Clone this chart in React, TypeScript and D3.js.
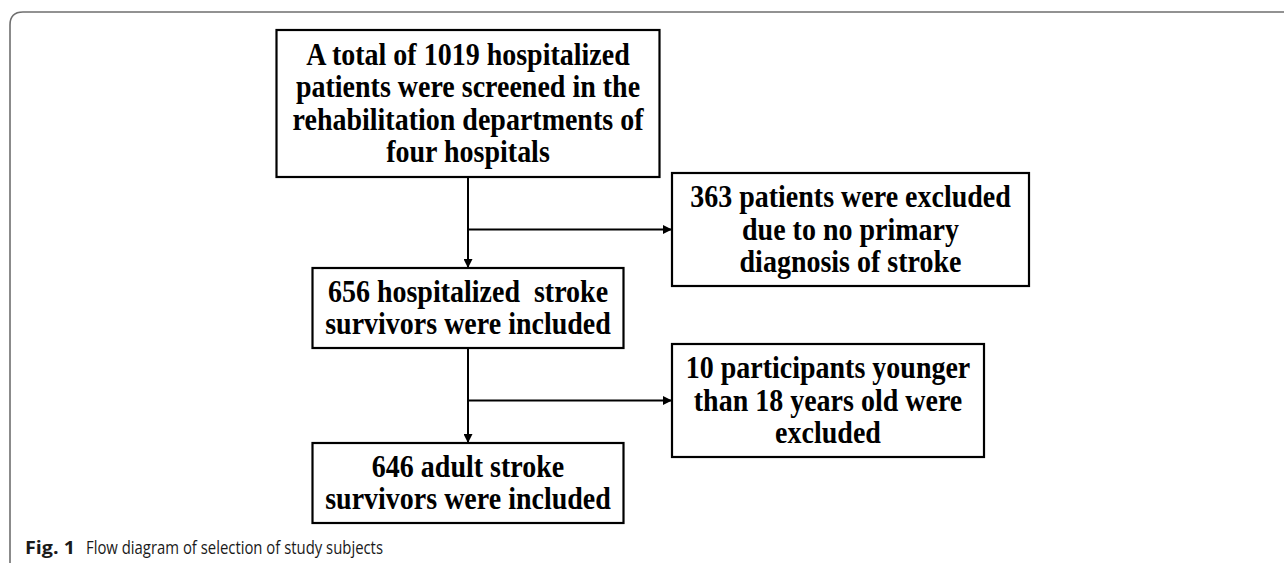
import React, { useEffect, useRef } from 'react';
import * as d3 from 'd3';

// box texts, top to bottom in the main column
const mainSteps: string[][] = [
  ['A total of 1019 hospitalized', 'patients were screened in the', 'rehabilitation departments of', 'four hospitals'],
  ['656 hospitalized  stroke', 'survivors were included'],
  ['646 adult stroke', 'survivors were included'],
];

// exclusion boxes, one between each pair of main steps
const exclusions: string[][] = [
  ['363 patients were excluded', 'due to no primary', 'diagnosis of stroke'],
  ['10 participants younger', 'than 18 years old were', 'excluded'],
];

const captionLabel = 'Fig. 1';
const captionText = 'Flow diagram of selection of study subjects';

const App: React.FC = () => {
  const svgRef = useRef<SVGSVGElement>(null);

  useEffect(() => {
    if (!svgRef.current) return;
    const svg = d3.select(svgRef.current);
    svg.selectAll('*').remove();

    const width = 1284;
    const height = 563;
    svg.attr('width', width).attr('height', height);

    const fontSize = 28;
    const stretch = 1.12; // the original lettering is a little taller than Times
    const lineH = 32.5;

    // layout of the two columns
    const mainX = 468;
    const sideLeft = 672;
    const mainRows = [
      { cy: 103.5, w: 383, h: 147 },
      { cy: 308, w: 311, h: 80 },
      { cy: 483, w: 311, h: 80 },
    ];
    const sideRows = [
      { cy: 229.5, w: 357, h: 113 },
      { cy: 400.5, w: 312, h: 113 },
    ];

    // frame around the figure
    const r = 13;
    svg
      .append('path')
      .attr('d', `M10,${height + 5} L10,${12 + r} Q10,12 ${10 + r},12 L${width + 5},12`)
      .attr('fill', 'none')
      .attr('stroke', '#6f6f6f')
      .attr('stroke-width', 1.6);

    svg
      .append('defs')
      .append('marker')
      .attr('id', 'arrow')
      .attr('viewBox', '0 0 10 10')
      .attr('refX', 10)
      .attr('refY', 5)
      .attr('markerUnits', 'userSpaceOnUse')
      .attr('markerWidth', 9)
      .attr('markerHeight', 9)
      .attr('orient', 'auto')
      .append('path')
      .attr('d', 'M0,0 L10,5 L0,10 Z')
      .attr('fill', '#000');

    const drawBox = (lines: string[], cx: number, cy: number, w: number, h: number) => {
      const g = svg.append('g');
      g.append('rect')
        .attr('x', cx - w / 2)
        .attr('y', cy - h / 2)
        .attr('width', w)
        .attr('height', h)
        .attr('fill', '#fff')
        .attr('stroke', '#000')
        .attr('stroke-width', 2.2);
      const first = cy - ((lines.length - 1) * lineH) / 2 + 10;
      g.selectAll('text')
        .data(lines)
        .enter()
        .append('text')
        .attr('transform', (_, i) => `translate(${cx},${first + i * lineH}) scale(1,${stretch})`)
        .attr('text-anchor', 'middle')
        .style('font-family', "'Liberation Serif', 'Times New Roman', serif")
        .style('font-weight', 'bold')
        .style('font-size', `${fontSize}px`)
        .style('white-space', 'pre')
        .attr('fill', '#000')
        .text(d => d);
    };

    // connectors
    mainRows.slice(0, -1).forEach((row, i) => {
      const next = mainRows[i + 1];
      const side = sideRows[i];
      svg
        .append('line')
        .attr('x1', mainX)
        .attr('y1', row.cy + row.h / 2)
        .attr('x2', mainX)
        .attr('y2', next.cy - next.h / 2)
        .attr('stroke', '#000')
        .attr('stroke-width', 2)
        .attr('marker-end', 'url(#arrow)');
      svg
        .append('line')
        .attr('x1', mainX)
        .attr('y1', side.cy)
        .attr('x2', sideLeft)
        .attr('y2', side.cy)
        .attr('stroke', '#000')
        .attr('stroke-width', 2)
        .attr('marker-end', 'url(#arrow)');
    });

    mainSteps.forEach((lines, i) => {
      const row = mainRows[i];
      drawBox(lines, mainX, row.cy, row.w, row.h);
    });
    exclusions.forEach((lines, i) => {
      const row = sideRows[i];
      drawBox(lines, sideLeft + row.w / 2, row.cy, row.w, row.h);
    });

    // caption
    const capY = 554;
    svg
      .append('text')
      .attr('x', 25)
      .attr('y', capY)
      .attr('textLength', 50)
      .attr('lengthAdjust', 'spacingAndGlyphs')
      .style('font-family', "'Open Sans', 'Noto Sans', sans-serif")
      .style('font-size', '18px')
      .style('font-weight', 'bold')
      .attr('fill', '#1a1a1a')
      .text(captionLabel);
    svg
      .append('text')
      .attr('x', 86)
      .attr('y', capY)
      .attr('textLength', 297)
      .attr('lengthAdjust', 'spacingAndGlyphs')
      .style('font-family', "'Open Sans', 'Noto Sans', sans-serif")
      .style('font-size', '18px')
      .attr('fill', '#1a1a1a')
      .text(captionText);
  }, []);

  return <svg ref={svgRef} style={{ position: 'absolute', left: 0, top: 0, display: 'block' }}></svg>;
};

export default App;
